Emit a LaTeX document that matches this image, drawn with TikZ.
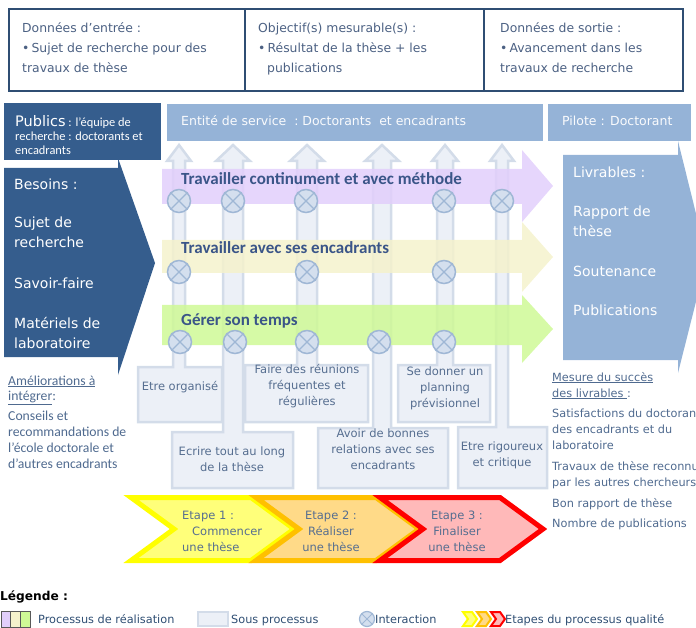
\documentclass[tikz,border=0pt]{standalone}
\usepackage{fontspec}
\setmainfont{DejaVu Sans}
\newfontfamily\calibri{Carlito}
\definecolor{frameblue}{HTML}{2F4E73}
\definecolor{darkblue}{HTML}{355D8D}
\definecolor{lightblue}{HTML}{95B3D7}
\definecolor{toptext}{HTML}{4C6183}
\definecolor{subtext}{HTML}{566E90}
\definecolor{notetext}{HTML}{4F6A8F}
\definecolor{subfill}{HTML}{ECF0F7}
\definecolor{subdraw}{HTML}{D3DCE9}
\definecolor{interfill}{HTML}{D4DFEE}
\definecolor{interdraw}{HTML}{9FB7D5}
\definecolor{violetband}{HTML}{E2CFFB}
\definecolor{creamband}{HTML}{F5F2CC}
\definecolor{greenband}{HTML}{CFF996}
\definecolor{bandtext}{HTML}{3A5588}
\definecolor{yellowB}{HTML}{FFFF00}
\definecolor{yellowF}{HTML}{FFFF7A}
\definecolor{orangeB}{HTML}{FFC000}
\definecolor{orangeF}{HTML}{FFDA88}
\definecolor{redB}{HTML}{FF0000}
\definecolor{redF}{HTML}{FFB9B9}

\begin{document}
\begin{tikzpicture}[x=1pt,y=-1pt,
  frame/.style={draw=frameblue,line width=2.5pt},
  toptxt/.style={inner sep=0,anchor=base west,align=left,text=toptext,font=\fontsize{12.4}{20}\selectfont},
  bigtxt/.style={inner sep=0,anchor=base west,align=left,text=white,font=\fontsize{14}{20}\selectfont},
  headtxt/.style={inner sep=0,anchor=base west,text=white!95!lightblue,font=\fontsize{12.5}{15}\selectfont},
  subproc/.style={fill=subfill,draw=subdraw,line width=2.5pt},
  subtxt/.style={inner sep=0,align=center,text=subtext,font=\fontsize{11.5}{16}\selectfont},
  band/.style={fill opacity=0.85},
  bandtxt/.style={inner sep=0,anchor=base west,text=bandtext,font=\calibri\bfseries\fontsize{17}{20}\selectfont},
  inter/.style={circle,inner sep=0,fill=interfill,draw=interdraw,line width=1.5pt},
  leftnote/.style={inner sep=0,anchor=base west,align=left,text=notetext,font=\calibri\fontsize{13.7}{16}\selectfont},
  rightnote/.style={inner sep=0,anchor=base west,align=left,text=notetext,font=\fontsize{11.3}{16}\selectfont},
  chevtxt/.style={inner sep=0,align=center,text=subtext,font=\fontsize{11.5}{16}\selectfont},
  legtxt/.style={inner sep=0,anchor=base west,text=frameblue,font=\fontsize{11.3}{14}\selectfont}]
\useasboundingbox (0,0) rectangle (696,628);
\clip (0,0) rectangle (696,628);

% multi-line nodes sit on the baseline of their last line
\draw[frame] (9,9) rectangle (683,91);
\draw[frame] (245,9) -- (245,91);
\draw[frame] (484,9) -- (484,91);
\node[toptxt] (entree) at (22,73) {Données d’entrée :\\•\,Sujet de recherche pour des\\travaux de thèse};
\node[toptxt] (objectif) at (258,73) {Objectif(s) mesurable(s) :\\•\,Résultat de la thèse + les\\\hspace{9pt}publications};
\node[toptxt] (sortie) at (500,73) {Données de sortie :\\•\,Avancement dans les\\travaux de recherche};

\fill[darkblue] (4,103) rectangle (161,160);
\fill[lightblue] (167,104) rectangle (543,141);
\fill[lightblue] (548,104) rectangle (691,141);
\node[inner sep=0,anchor=base west,align=left,text=white,font=\calibri\fontsize{12.4}{14}\selectfont] (publics) at (15,155)
  {{\rmfamily\fontsize{14.5}{14}\selectfont Publics}\ : l’équipe de\\recherche : doctorants et\\encadrants};
\node[headtxt] (entite) at (181,126) {Entité de service\ \ :\ Doctorants\ \ et encadrants};
\node[headtxt] (pilote) at (562,126) {Pilote : Doctorant};

\fill[darkblue] (4,168) -- (118,168) -- (118,158) -- (155,263) -- (118,375) -- (118,357) -- (4,357) -- cycle;
\node[bigtxt] (besoins) at (14,190) {Besoins :};
\node[bigtxt] (sujet) at (14,248) {Sujet de\\recherche};
\node[bigtxt] (savoir) at (14,289) {Savoir-faire};
\node[bigtxt] (materiels) at (14,348) {Matériels de\\laboratoire};

\fill[lightblue] (563,155) -- (678,155) -- (678,141) -- (707,258) -- (678,373) -- (678,360) -- (563,360) -- cycle;
\node[bigtxt] (livrables) at (573,178) {Livrables :};
\node[bigtxt] (rapport) at (573,237) {Rapport de\\thèse};
\node[bigtxt] (soutenance) at (573,277) {Soutenance};
\node[bigtxt] (publis) at (573,316) {Publications};

\foreach \cx/\sw/\hw/\xa/\ya/\xb/\yb in {179/6/12/138/367/222/422, 233/10/17/172/432/293/488,
    307/10/17/245/365/368/422, 382/9/17/318/428/448/488, 445/8/13/398/365/490/422, 502/6/12/458/427/547/488}
  \draw[subproc] (\xa,\ya) -- (\cx-\sw,\ya) -- (\cx-\sw,161) -- (\cx-\hw,161) -- (\cx,145) -- (\cx+\hw,161)
    -- (\cx+\sw,161) -- (\cx+\sw,\ya) -- (\xb,\ya) -- (\xb,\yb) -- (\xa,\yb) -- cycle;

\fill[band,violetband] (162,169) -- (522,169) -- (522,150) -- (553,186) -- (522,222) -- (522,204) -- (162,204) -- cycle;
\fill[band,creamband] (162,240) -- (522,240) -- (522,222) -- (553,257) -- (522,292) -- (522,273) -- (162,273) -- cycle;
\fill[band,greenband] (162,305) -- (522,305) -- (522,295) -- (553,329) -- (522,363) -- (522,345) -- (162,345) -- cycle;
\node[bandtxt] (continu) at (181,185) {Travailler continument et avec méthode};
\node[bandtxt] (encadr) at (181,254) {Travailler avec ses encadrants};
\node[bandtxt] (temps) at (181,326) {Gérer son temps};

\foreach \cx/\cy [count=\i] in {179/201, 233/201, 306/201, 444/201, 502/201, 179/272, 307/272, 444/272,
    180/342, 235/342, 307/342, 379/342, 444/342}
{
\node[inter,minimum size=23pt] (ix\i) at (\cx,\cy) {};
\draw[interdraw,line width=1.3pt] (ix\i.north west) -- (ix\i.south east) (ix\i.north east) -- (ix\i.south west);
}

\node[subtxt] (organise) at (180,387) {Etre organisé};
\node[subtxt] (reunions) at (307,386) {Faire des réunions\\fréquentes et\\régulières};
\node[subtxt] (planning) at (445,388) {Se donner un\\planning\\prévisionnel};
\node[subtxt] (ecrire) at (232,459) {Ecrire tout au long\\de la thèse};
\node[subtxt] (relations) at (383,449) {Avoir de bonnes\\relations avec ses\\encadrants};
\node[subtxt] (rigueur) at (502,455) {Etre rigoureux\\et critique};

\node[leftnote,font=\calibri\fontsize{13.7}{15.5}\selectfont] (amelio) at (8,400.5) {\underline{Améliorations à}\\\underline{intégrer}:};
\node[leftnote] (conseils) at (8,468) {Conseils et\\recommandations de\\l’école doctorale et\\d’autres encadrants};

\node[rightnote] (mesure) at (552,397) {\underline{Mesure du succès}\\\underline{des livrables\ }:};
\node[rightnote] (satisf) at (552,449) {Satisfactions du doctorant,\\des encadrants et du\\laboratoire};
\node[rightnote] (travaux) at (552,486) {Travaux de thèse reconnus\\par les autres chercheurs};
\node[rightnote] (bonrapport) at (552,507) {Bon rapport de thèse};
\node[rightnote] (nombre) at (552,527) {Nombre de publications};

\foreach \x/\bc/\fc in {128/yellowB/yellowF, 253/orangeB/orangeF, 377/redB/redF}
  \draw[line width=5pt,draw=\bc,fill=\fc] (\x+3,497.5) -- (\x+123,497.5) -- (\x+166,529) -- (\x+123,560.5)
    -- (\x+3,560.5) -- (\x+46,529) -- cycle;
\node[chevtxt,align=left,anchor=west] (etape1) at (182,531) {Etape 1 :\\\hspace{10pt}Commencer\\une thèse};
\node[chevtxt] (etape2) at (331,531) {Etape 2 :\\Réaliser\\une thèse};
\node[chevtxt] (etape3) at (457,531) {Etape 3 :\\Finaliser\\une thèse};

\node[inner sep=0,anchor=base west,text=black,font=\bfseries\fontsize{12.2}{14}\selectfont] (legende) at (0,600) {Légende :};
\foreach \x/\c in {1/violetband, 10/creamband, 20/greenband}
  \draw[draw=black!65,fill=\c,line width=0.8pt] (\x,611) rectangle (\x+10,627);
\node[legtxt] (legproc) at (38,623) {Processus de réalisation};
\draw[subproc,line width=2pt] (198,612) rectangle (228,626);
\node[legtxt] (legsous) at (231,623) {Sous processus};
\node[inter,minimum size=15pt,line width=1.2pt] (leginter) at (367,619) {};
\draw[interdraw,line width=1pt] (leginter.north west) -- (leginter.south east) (leginter.north east) -- (leginter.south west);
\node[legtxt] (leginteraction) at (375,623) {Interaction};
\foreach \x/\bc/\fc in {462/yellowB/yellowF, 476/orangeB/orangeF, 490/redB/redF}
  \draw[line width=2pt,draw=\bc,fill=\fc] (\x+1,612) -- (\x+10,612) -- (\x+15,619) -- (\x+10,626) -- (\x+1,626) -- (\x+6,619) -- cycle;
\node[legtxt] (legetapes) at (505,623) {Etapes du processus qualité};
\end{tikzpicture}
\end{document}
